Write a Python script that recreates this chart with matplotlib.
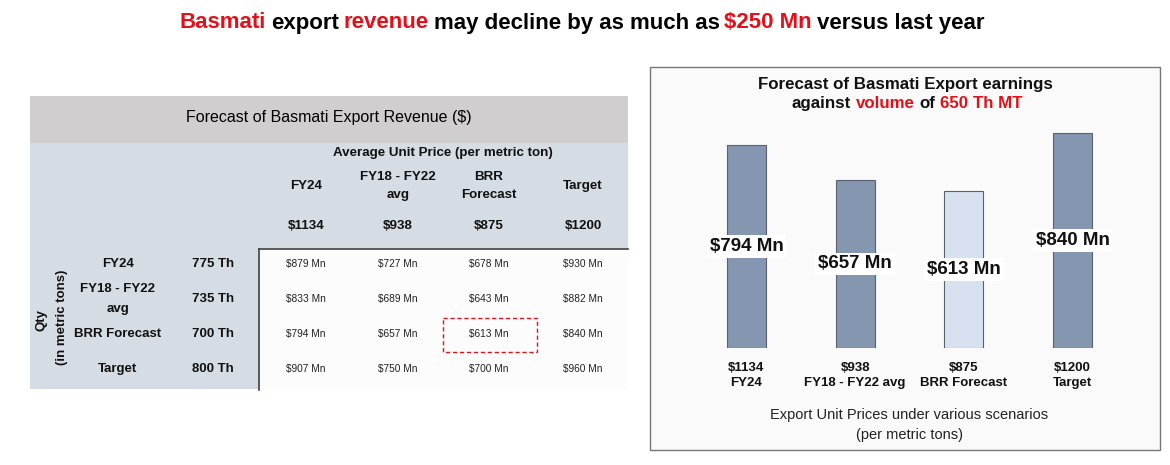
import matplotlib.pyplot as plt
from matplotlib.patches import Rectangle

plt.rcParams['font.family'] = ['Liberation Sans', 'DejaVu Sans']

RED = '#e3101a'
BLUE_BAR = '#8496b0'
LIGHT_BAR = '#d8e1f0'

# table data
price_cols = ['FY24', 'FY18 - FY22\navg', 'BRR\nForecast', 'Target']
unit_prices = [1134, 938, 875, 1200]
qty_rows = ['FY24', 'FY18 - FY22\navg', 'BRR Forecast', 'Target']
qty_th = [775, 735, 700, 800]
revenue_mn = [
    [879, 727, 678, 930],
    [833, 689, 643, 882],
    [794, 657, 613, 840],
    [907, 750, 700, 960],
]

# bar chart data
bar_names = ['FY24', 'FY18 - FY22 avg', 'BRR Forecast', 'Target']
bar_prices = [1134, 938, 875, 1200]
earnings_mn = [794, 657, 613, 840]
highlight = 'BRR Forecast'

W, H = 1170, 465
fig = plt.figure(figsize=(W / 100, H / 100), dpi=100)
fig.patch.set_facecolor('white')

# overlay axes in pixel coordinates for the table and frame
ov = fig.add_axes([0, 0, 1, 1], zorder=0)
ov.set_xlim(0, W)
ov.set_ylim(H, 0)
ov.axis('off')
renderer = fig.canvas.get_renderer()


def rich_text(ax, xc, y, parts, gap_scale=1.0, **kw):
    """draw a line made of coloured pieces, centred on xc"""
    sp = ax.text(0, 0, 'a a', **kw)
    nsp = ax.text(0, 0, 'aa', **kw)
    gap = sp.get_window_extent(renderer).width - nsp.get_window_extent(renderer).width
    gap *= gap_scale
    sp.remove()
    nsp.remove()
    texts = [ax.text(0, y, s, color=c, ha='left', va='center', **kw) for s, c in parts]
    widths = [t.get_window_extent(renderer).width for t in texts]
    total = sum(widths) + gap * (len(texts) - 1)
    x = xc - total / 2
    for t, w in zip(texts, widths):
        t.set_x(x)
        x += w + gap


# main title
rich_text(ov, 582, 23, [('Basmati', RED), ('export', 'black'), ('revenue', RED),
                        ('may decline by as much as', 'black'), ('$250 Mn', RED),
                        ('versus last year', 'black')],
          gap_scale=0.8, fontsize=16, fontweight='bold')

# ---- table ----
ov.add_patch(Rectangle((30, 96), 598, 47, facecolor='#d0cece', edgecolor='none'))
ov.add_patch(Rectangle((30, 143), 598, 246, facecolor='#d6dce4', edgecolor='none'))
ov.add_patch(Rectangle((259, 249), 369, 141, facecolor='#fcfcfc', edgecolor='none'))
ov.plot([259, 628], [249, 249], color='#404040', lw=1.2)
ov.plot([259, 259], [249, 390], color='#404040', lw=1.2)

ov.text(329, 117, 'Forecast of Basmati Export Revenue ($)', ha='center', va='center',
        fontsize=11.5, color='black')
ov.text(443, 153, 'Average Unit Price (per metric ton)', ha='center', va='center',
        fontsize=9.6, fontweight='bold', color='#111111')

col_x = [306, 398, 489, 583]
row_y = [264, 299, 334, 369]
for cx, name, p in zip(col_x, price_cols, unit_prices):
    ov.text(cx, 186, name, ha='center', va='center', fontsize=9.6, fontweight='bold',
            linespacing=1.65, color='#111111')
    ov.text(cx, 226, f'${p}', ha='center', va='center', fontsize=9.6, fontweight='bold',
            color='#111111')

for ry, name, q, vals in zip(row_y, qty_rows, qty_th, revenue_mn):
    ov.text(118, ry, name, ha='center', va='center', fontsize=9.5, fontweight='bold',
            linespacing=1.8, color='#111111')
    ov.text(213, ry, f'{q} Th', ha='center', va='center', fontsize=9.5, fontweight='bold',
            color='#111111')
    for cx, v in zip(col_x, vals):
        ov.text(cx, ry, f'${v} Mn', ha='center', va='center', fontsize=7.3, color='#222222')

ov.text(41, 320, 'Qty', rotation=90, ha='center', va='center', fontsize=9.5,
        fontweight='bold', color='#111111')
ov.text(62, 317, '(in metric tons)', rotation=90, ha='center', va='center', fontsize=9.5,
        fontweight='bold', color='#111111')

# highlight box around the forecast cell
hi = qty_rows.index(highlight)
ov.add_patch(Rectangle((443, row_y[hi] - 16), 94, 34, facecolor='none', edgecolor=RED,
                       lw=1, ls=(0, (3, 2))))

# ---- bar panel ----
ov.add_patch(Rectangle((650, 67), 510, 383, facecolor='#fafafa', edgecolor='#777777', lw=1))
ov.text(905, 84, 'Forecast of Basmati Export earnings', ha='center', va='center',
        fontsize=12.2, fontweight='bold', color='#111111')
rich_text(ov, 907, 103, [('against', '#111111'), ('volume', RED), ('of', '#111111'),
                         ('650 Th MT', RED)], fontsize=12.2, fontweight='bold')

step = 108.7
left = 746.5 - 0.7 * step
right = 1072.5 + 0.7 * step
y0, ytop = 348, 348 - 0.256 * 900
ax = fig.add_axes([left / W, (H - y0) / H, (right - left) / W, (y0 - ytop) / H], zorder=1)
ax.patch.set_visible(False)
xs = list(range(len(earnings_mn)))
colors = [LIGHT_BAR if n == highlight else BLUE_BAR for n in bar_names]
ax.bar(xs, earnings_mn, width=0.36, color=colors, edgecolor='#5a6270', lw=0.8)
for x, v in zip(xs, earnings_mn):
    ax.text(x, v / 2, f'${v} Mn', ha='center', va='center', fontsize=13.5, fontweight='bold',
            color='#111111',
            bbox=dict(boxstyle='square,pad=0.15', facecolor='white', edgecolor='none'))
ax.set_xlim(-0.7, 3.7)
ax.set_ylim(0, 900)
ax.set_xticks(xs)
ax.set_xticklabels([f'${p}\n{n}' for p, n in zip(bar_prices, bar_names)],
                   fontsize=9.5, fontweight='bold', linespacing=1.3, color='#111111')
ax.tick_params(axis='x', length=0, pad=10)
ax.set_yticks([])
for s in ax.spines.values():
    s.set_visible(False)
ax.set_xlabel('Export Unit Prices under various scenarios\n(per metric tons)',
              fontsize=10.5, linespacing=1.5, labelpad=14, color='#222222')

fig.savefig('out.png', dpi=100)
